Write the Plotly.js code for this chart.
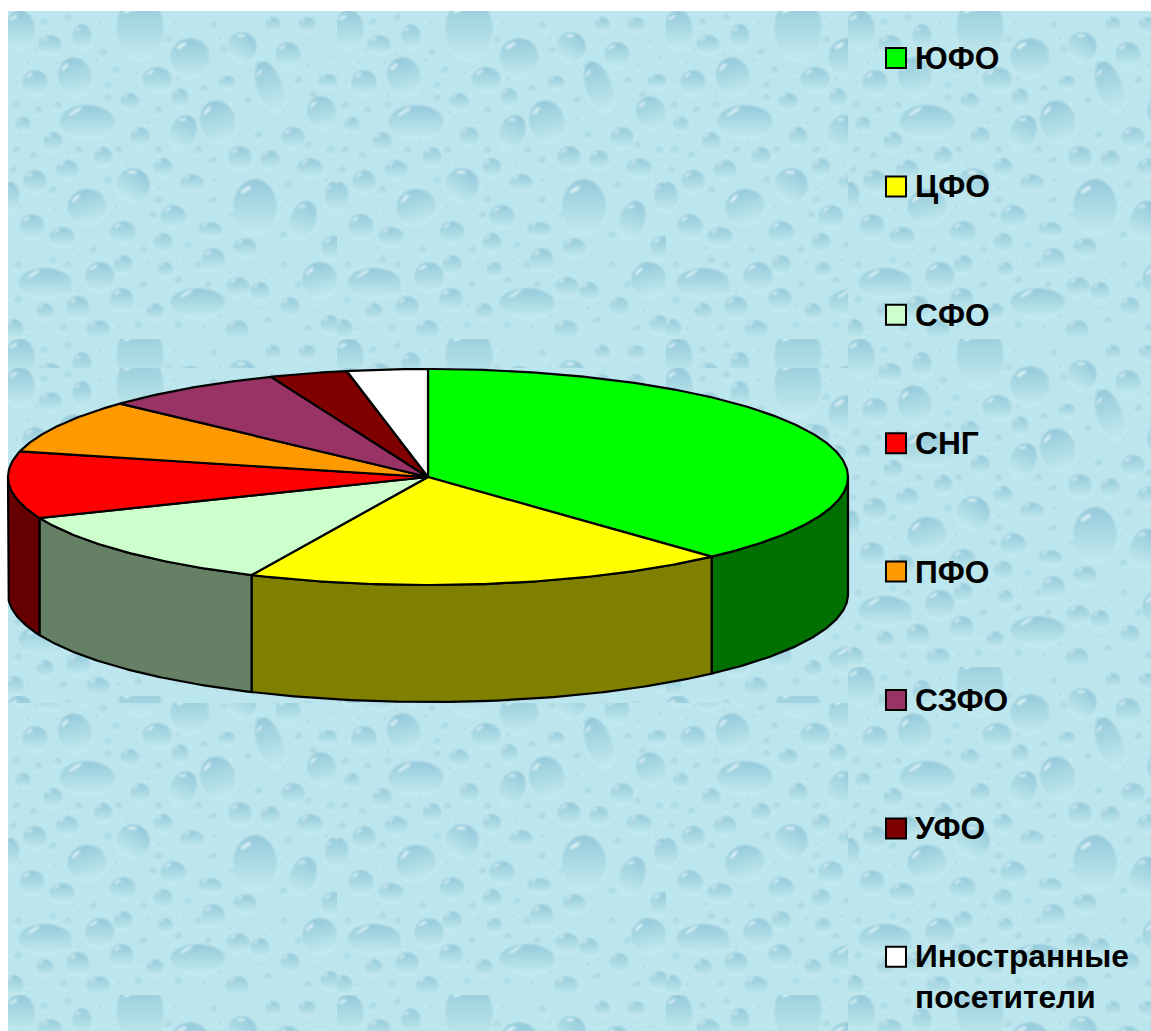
<!DOCTYPE html>
<html>
<head>
<meta charset="utf-8">
<script src="https://cdn.plot.ly/plotly-3.0.1.min.js"></script>
<style>html,body{margin:0;padding:0;background:#fff}#chart{width:1151px;height:1031px}</style>
</head>
<body>
<div id="chart"></div>
<script>
// Visitor shares by region
const regions = ['ЮФО','ЦФО','СФО','СНГ','ПФО','СЗФО','УФО','Иностранные<br>посетители'];
const shares = [38.2,18.7,11.9,10,8.1,7,3,3.1];
const topColors = ['#00ff00','#ffff00','#ccffcc','#ff0000','#ff9900','#993366','#800000','#ffffff'];
const sideColors = ['#007000','#808000','#668066','#660000','#804c00','#4c1933','#400000','#808080'];

// Disc geometry in axis units
const cx = 428, cy = 477, rx = 420, ry = 108, depth = 117;
// Legend column
const legendX = 896, legendTextX = 913, legendTop = 58, legendStep = 128.4;

// Water-drop wallpaper: [x, y, rx, ry, rotation] inside one tile
const tileW = 329, tileH = 328;
const drops = [
 [132,18,24,32,0],[182,47,20,20,0],[234,36,15,15,30],[280,44,13,13,0],[299,14,9,8,0],[265,14,8,8,0],
 [12,19,15,20,0],[42,34,12,10,0],[74,26,10,13,0],[67,66,17,20,-15],[27,72,13,13,0],[149,69,15,13,0],
 [262,76,13,27,-20],[219,72,9,7,0],[320,71,10,8,0],[122,91,10,9,0],[172,87,9,10,0],[79,111,28,17,0],
 [314,102,15,17,-15],[210,111,18,22,-15],[175,121,13,18,25],[15,114,8,8,0],[132,126,10,10,0],[45,131,10,10,0],
 [285,127,12,11,0],[95,146,10,10,0],[232,147,12,12,0],[262,149,10,10,0],[59,159,12,10,0],[155,157,10,10,0],
 [302,157,13,10,0],[125,174,17,17,30],[27,171,12,12,0],[184,172,12,9,0],[247,196,22,28,0],[79,196,20,18,-15],
 [295,209,13,20,20],[325,186,8,15,0],[2,186,10,15,0],[165,206,13,12,0],[24,216,13,13,0],[54,226,13,10,0],
 [115,222,13,12,0],[202,219,12,8,0],[155,232,10,10,0],[237,237,12,10,0],[205,249,12,12,0],[325,237,12,12,0],
 [115,254,10,10,0],[92,266,15,15,0],[37,272,27,15,0],[157,259,8,8,0],[312,269,18,18,-15],[230,276,12,10,0],
 [190,292,28,15,0],[252,281,10,10,0],[114,289,12,12,0],[70,297,12,12,0],[282,296,10,10,0],[147,301,9,9,0],
 [37,301,9,9,0],[229,319,12,10,0],[90,319,12,10,0],[322,314,10,10,0],[6,318,10,10,0]
];
const beads = [
 [36,12],[60,8],[95,42],[108,60],[100,75],[160,30],[205,15],[215,40],[250,55],[290,70],[305,85],[240,90],
 [195,78],[150,100],[100,88],[50,95],[30,100],[8,95],[8,140],[25,145],[70,140],[110,140],[150,140],[190,140],
 [205,150],[250,125],[300,135],[322,140],[5,160],[45,180],[100,170],[150,190],[205,190],[280,175],[275,225],
 [180,235],[135,240],[85,240],[45,250],[10,255],[60,255],[135,275],[170,270],[200,275],[275,255],[290,275],
 [10,290],[60,280],[170,315],[130,315],[55,318],[260,310],[300,318],[190,255],[225,205],[145,205]
];
const specks = [
 [28,40],[58,44],[92,12],[165,12],[212,28],[256,30],[312,32],[20,52],[48,52],[88,50],[128,62],[170,68],
 [200,58],[242,60],[300,55],[322,48],[8,72],[50,85],[112,102],[140,112],[192,96],[240,108],[275,100],[12,125],
 [60,142],[82,130],[118,155],[178,155],[218,128],[248,168],[272,150],[318,170],[12,196],[46,200],[108,196],
 [150,178],[205,170],[228,180],[278,190],[40,238],[70,245],[100,262],[140,252],[175,250],[222,262],[262,262],
 [296,245],[20,262],[70,280],[130,296],[168,290],[212,306],[250,298],[306,300],[20,318],[110,316],[195,316]
];

function dropMarkup(d){
  const [x,y,a,b,r] = d;
  const big = Math.min(a,b) > 6;
  return `<g transform="translate(${x} ${y}) rotate(${r})" opacity="${big?0.88:0.65}">`+
    `<ellipse rx="${a+1}" ry="${b+1}" fill="#d3f1f3" opacity="0.55"/>`+
    `<ellipse rx="${a}" ry="${b}" fill="url(#drop)"/>`+
    `<ellipse cx="${-a*0.42}" cy="${-b*0.62}" rx="${Math.max(a*0.28,1.2)}" ry="${Math.max(Math.min(a,b)*0.09,0.6)}" transform="rotate(-32 ${-a*0.42} ${-b*0.62})" fill="#e8f8f9" opacity="0.85"/>`+
    `</g>`;
}
function wallpaper(){
  const tile = specks.map(p=>dropMarkup([p[0],p[1],2.5,2.5,0])).join('')
    + beads.map(p=>dropMarkup([p[0],p[1],4.5,4.5,0])).join('')
    + drops.map(dropMarkup).join('');
  const pat = (id,x,y)=>`<pattern id="${id}" patternUnits="userSpaceOnUse" x="${x}" y="${y}" width="${tileW}" height="${tileH}"><rect width="${tileW}" height="${tileH}" fill="#bce6ee"/><use href="#tile"/></pattern>`;
  return `<svg xmlns="http://www.w3.org/2000/svg" width="1151" height="1031" viewBox="0 0 1151 1031">`+
    `<defs><linearGradient id="drop" x1="0" y1="0" x2="0" y2="1"><stop offset="0" stop-color="#8fc6d9"/><stop offset="0.55" stop-color="#acdbe5"/><stop offset="1" stop-color="#c6ebef"/></linearGradient>`+
    `<filter id="soft"><feGaussianBlur stdDeviation="0.8"/></filter>`+
    `<g id="tile" filter="url(#soft)">${tile}</g>`+
    pat('chartTile',8,11)+pat('bandTile',8,368)+pat('legendTile',848,11)+`</defs>`+
    `<rect x="8" y="11" width="840" height="1020" fill="url(#chartTile)"/>`+
    `<rect x="8" y="368" width="840" height="335" fill="url(#bandTile)"/>`+
    `<rect x="848" y="11" width="303" height="1020" fill="url(#legendTile)"/>`+
    `</svg>`;
}

// Angle runs clockwise from the top of the disc, in radians
const px = a => cx + rx*Math.sin(a);
const py = a => cy - ry*Math.cos(a);
function arcAngles(a0,a1){
  const n = Math.max(2, Math.ceil((a1-a0)/0.01));
  const out = [];
  for(let i=0;i<=n;i++) out.push(a0+(a1-a0)*i/n);
  return out;
}

const total = shares.reduce((s,v)=>s+v,0);
const sideTraces = [], topTraces = [];
let running = 0;
shares.forEach((v,i)=>{
  const a0 = running/total*2*Math.PI;
  running += v;
  const a1 = running/total*2*Math.PI;
  const name = regions[i].replace('<br>',' ');
  const arc = arcAngles(a0,a1);
  topTraces.push({
    type:'scatter',mode:'lines',fill:'toself',name,showlegend:false,hoverinfo:'name',
    x:[cx,...arc.map(px),cx],y:[cy,...arc.map(py),cy],
    fillcolor:topColors[i],line:{color:'#000',width:2.2}
  });
  // Only the front half of the rim is visible
  const s0 = Math.max(a0,Math.PI/2), s1 = Math.min(a1,1.5*Math.PI);
  if(s1>s0){
    const rim = arcAngles(s0,s1);
    const back = rim.slice().reverse();
    sideTraces.push({
      type:'scatter',mode:'lines',fill:'toself',name,showlegend:false,hoverinfo:'name',
      x:[...rim.map(px),...back.map(px),px(rim[0])],
      y:[...rim.map(py),...back.map(a=>py(a)+depth),py(rim[0])],
      fillcolor:sideColors[i],line:{color:'#000',width:2.2}
    });
  }
});

const legendY = regions.map((_,i)=>legendTop+i*legendStep);
const swatches = {
  type:'scatter',mode:'markers',showlegend:false,hoverinfo:'skip',
  x:regions.map(()=>legendX),y:legendY,
  marker:{symbol:'square',size:20,color:topColors,line:{color:'#000',width:2}}
};
const labels = regions.map((r,i)=>{
  const lines = r.split('<br>').length;
  return {
    xref:'x',yref:'y',x:legendTextX,y:legendY[i]+(lines-1)*20,
    text:r,showarrow:false,xanchor:'left',yanchor:'middle',align:'left',
    font:{family:'"Liberation Sans", Arial, sans-serif',size:31.7,color:'#000',weight:700}
  };
});

const layout = {
  width:1151,height:1031,margin:{l:0,r:0,t:0,b:0},
  paper_bgcolor:'#fff',plot_bgcolor:'rgba(0,0,0,0)',showlegend:false,
  xaxis:{range:[0,1151],visible:false,fixedrange:true},
  yaxis:{range:[1031,0],visible:false,fixedrange:true},
  annotations:labels,
  images:[{
    source:'data:image/svg+xml;charset=utf-8,'+encodeURIComponent(wallpaper()),
    xref:'paper',yref:'paper',x:0,y:1,sizex:1,sizey:1,xanchor:'left',yanchor:'top',
    sizing:'stretch',layer:'below'
  }]
};
Plotly.newPlot('chart',[...sideTraces,...topTraces,swatches],layout,{displayModeBar:false,staticPlot:true});
</script>
</body>
</html>
